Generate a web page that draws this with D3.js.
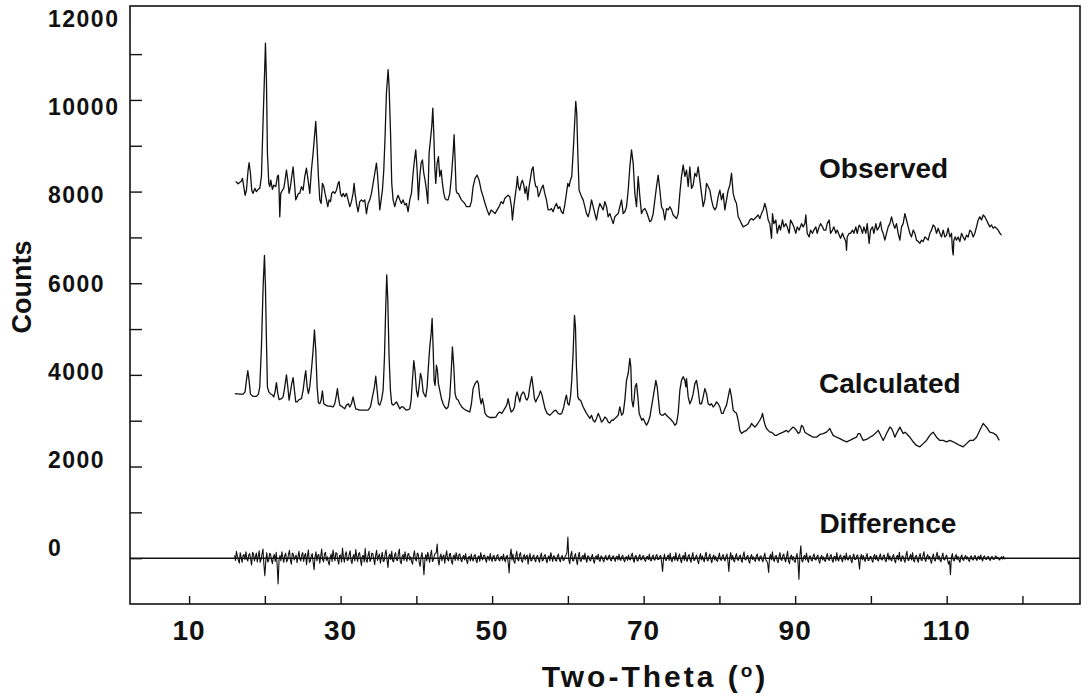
<!DOCTYPE html>
<html>
<head>
<meta charset="utf-8">
<script src="https://cdn.jsdelivr.net/npm/d3@7/dist/d3.min.js"></script>
<style>
  body { margin: 0; background: #fff; }
  svg { display: block; }
  text { font-family: "Liberation Sans", Arial, sans-serif; font-weight: bold; fill: #111; }
</style>
</head>
<body>
<script>

// two-theta / counts
var observed = [
  [16.16,8220],[16.47,8170],[16.69,8200],[16.91,8230],[17.04,8290],[17.22,8110],[17.39,7920],[17.57,8030],[17.79,8470],[17.92,8630],
  [18.10,8400],[18.27,8030],[18.45,7960],[18.67,8070],[18.89,8000],[19.11,8050],[19.33,8070],[19.55,8330],[19.77,9560],[19.99,10730],
  [20.08,11240],[20.21,10440],[20.34,8840],[20.52,8180],[20.65,8110],[20.78,8250],[21.00,8050],[21.18,8140],[21.44,8110],[21.66,8330],
  [21.79,8360],[21.88,8030],[21.97,7450],[22.10,7960],[22.32,8030],[22.50,8070],[22.67,8250],[22.85,8470],[23.03,8250],[23.20,7960],
  [23.38,8110],[23.55,8330],[23.73,8540],[23.91,8180],[24.08,7820],[24.26,7890],[24.43,7960],[24.61,7960],[24.83,8110],[25.05,8030],
  [25.27,8330],[25.49,8510],[25.71,8250],[25.93,7960],[26.15,8470],[26.37,8840],[26.55,9200],[26.72,9530],[26.90,8980],[27.07,8330],
  [27.25,7820],[27.43,7740],[27.60,8180],[27.78,8110],[27.95,7960],[28.13,7820],[28.31,7670],[28.48,7820],[28.66,7780],[28.83,7960],
  [29.01,8000],[29.23,7960],[29.45,8030],[29.67,8180],[29.80,8220],[29.98,7960],[30.15,7890],[30.33,7960],[30.55,7890],[30.77,7960],
  [30.99,7820],[31.21,7670],[31.43,7780],[31.65,7960],[31.78,8180],[31.91,7960],[32.09,7740],[32.31,7560],[32.53,7780],[32.75,7820],
  [32.97,7780],[33.19,7820],[33.41,7520],[33.63,7740],[33.85,7820],[34.07,7960],[34.29,8180],[34.51,8400],[34.73,8620],[34.86,8400],
  [35.04,7960],[35.17,7600],[35.35,7820],[35.52,8030],[35.70,8470],[35.87,9200],[36.05,10150],[36.27,10660],[36.40,10290],[36.58,9350],
  [36.75,8180],[36.93,7820],[37.15,7670],[37.37,7820],[37.59,7920],[37.81,7820],[38.03,7740],[38.25,7820],[38.47,7710],[38.69,7740],
  [38.91,7560],[39.13,7820],[39.35,7960],[39.57,8400],[39.75,8690],[39.92,8910],[40.10,8470],[40.27,7820],[40.45,8330],[40.63,8620],
  [40.80,8690],[40.98,8400],[41.15,8250],[41.33,8030],[41.51,7740],[41.68,8840],[41.86,9130],[42.03,9420],[42.17,9820],[42.30,9270],
  [42.43,8540],[42.56,8180],[42.74,8620],[42.91,8760],[43.09,8330],[43.27,8470],[43.44,8180],[43.62,7960],[43.79,7850],[43.97,7820],
  [44.19,7820],[44.41,7960],[44.63,8330],[44.85,8840],[44.98,9240],[45.11,8690],[45.25,8030],[45.38,7960],[45.55,7960],[45.73,7890],
  [45.95,7820],[46.17,7780],[46.39,7740],[46.61,7670],[46.83,7670],[47.05,7670],[47.27,7780],[47.49,8110],[47.75,8290],[48.02,8360],
  [48.28,8250],[48.55,8030],[48.81,7890],[49.07,7740],[49.34,7600],[49.60,7490],[49.87,7600],[50.13,7560],[50.39,7520],[50.66,7600],
  [50.92,7670],[51.19,7780],[51.45,7740],[51.67,7850],[51.89,7890],[52.11,7920],[52.33,7890],[52.55,7670],[52.68,7380],[52.86,7670],
  [53.03,7890],[53.21,8110],[53.34,8330],[53.47,8110],[53.65,8030],[53.83,8180],[54.00,8250],[54.18,8140],[54.35,7960],[54.53,8110],
  [54.71,7820],[54.88,8110],[55.06,8290],[55.23,8470],[55.41,8540],[55.59,8250],[55.76,8110],[55.94,8110],[56.11,7890],[56.29,7960],
  [56.51,8070],[56.73,8140],[56.95,7960],[57.17,7820],[57.39,7600],[57.61,7600],[57.83,7630],[58.05,7560],[58.27,7670],[58.49,7740],
  [58.71,7630],[58.93,7670],[59.15,7560],[59.37,7520],[59.59,7710],[59.81,7960],[59.99,8180],[60.16,8110],[60.34,8250],[60.51,8330],
  [60.69,8840],[60.87,9420],[61.04,9970],[61.17,9710],[61.31,8840],[61.48,8030],[61.80,7890],[62.02,7820],[62.24,7670],[62.46,7520],
  [62.68,7450],[62.90,7600],[63.12,7820],[63.34,7670],[63.56,7520],[63.78,7380],[64.00,7600],[64.22,7740],[64.44,7670],[64.66,7600],
  [64.88,7780],[65.10,7670],[65.32,7450],[65.54,7520],[65.76,7410],[65.98,7300],[66.20,7450],[66.42,7490],[66.64,7520],[66.86,7670],
  [67.08,7820],[67.30,7520],[67.52,7560],[67.74,7670],[67.96,8030],[68.18,8540],[68.40,8910],[68.62,8620],[68.84,7960],[69.06,7670],
  [69.28,8330],[69.50,7890],[69.72,7520],[69.94,7600],[70.16,7630],[70.38,7560],[70.60,7450],[70.82,7340],[71.04,7380],[71.26,7520],
  [71.48,7820],[71.70,8110],[71.92,8360],[72.14,8030],[72.36,7670],[72.58,7600],[72.80,7380],[73.02,7630],[73.24,7600],[73.46,7670],
  [73.68,7600],[73.90,7490],[74.12,7450],[74.34,7410],[74.56,7520],[74.78,7960],[75.00,8330],[75.22,8580],[75.44,8330],[75.66,8470],
  [75.88,8110],[76.10,8540],[76.32,8070],[76.54,8140],[76.76,8400],[76.98,8330],[77.20,8540],[77.42,8250],[77.64,7960],[77.86,7670],
  [78.08,7820],[78.30,8180],[78.52,8110],[78.74,8030],[78.96,7820],[79.18,7670],[79.40,7600],[79.62,7670],[79.84,7890],[80.06,8030],
  [80.28,7820],[80.50,7960],[80.72,7600],[80.94,7820],[81.16,8030],[81.38,8140],[81.60,8400],[81.82,7960],[82.04,7820],[82.26,7740],
  [82.48,7450],[82.70,7380],[82.92,7300],[83.14,7230],[83.58,7270],[83.80,7300],[84.02,7380],[84.24,7410],[84.46,7380],[84.68,7410],
  [84.90,7450],[85.12,7490],[85.34,7410],[85.56,7520],[85.78,7600],[86.00,7740],[86.22,7600],[86.44,7380],[86.66,7300],[86.88,6980],
  [87.01,7520],[87.19,7300],[87.45,7380],[87.63,7090],[87.89,7270],[88.07,7160],[88.33,7380],[88.51,7230],[88.77,7300],[88.95,7230],
  [89.21,7090],[89.39,7380],[89.65,7300],[89.83,7230],[90.09,7090],[90.27,7230],[90.53,7160],[90.84,7300],[91.06,7230],[91.28,7300],
  [91.41,7490],[91.59,7090],[91.85,7010],[92.03,7160],[92.29,7090],[92.47,7160],[92.73,7230],[92.91,7090],[93.17,7230],[93.35,7300],
  [93.61,7230],[93.79,7160],[94.05,7160],[94.23,7300],[94.49,7380],[94.67,7090],[94.93,7160],[95.11,7230],[95.37,7090],[95.55,7160],
  [95.81,7050],[95.99,6980],[96.25,7090],[96.43,7010],[96.69,6910],[96.78,6720],[96.87,7010],[97.13,7090],[97.31,7090],[97.57,7160],
  [97.75,7090],[98.01,7230],[98.19,7090],[98.45,7270],[98.63,7230],[98.89,7090],[99.07,7230],[99.33,7090],[99.51,7300],[99.77,6870],
  [99.95,7160],[100.21,7230],[100.39,7090],[100.65,7300],[100.83,7160],[101.09,7230],[101.27,7340],[101.44,7160],[101.62,7090],[101.84,6940],
  [102.06,7090],[102.28,7230],[102.50,7300],[102.72,7450],[102.94,7300],[103.16,7200],[103.38,7300],[103.60,7090],[103.82,6940],[104.04,7230],
  [104.26,7300],[104.48,7520],[104.70,7380],[104.92,7230],[105.14,7090],[105.36,7010],[105.58,7160],[105.80,7090],[106.02,6940],[106.24,6910],
  [106.46,6870],[106.68,6940],[106.90,6910],[107.12,7010],[107.34,6980],[107.56,6940],[107.78,7090],[108.00,7160],[108.22,7270],[108.44,7230],
  [108.66,7090],[108.88,7200],[109.10,7090],[109.32,7010],[109.54,7160],[109.76,7010],[109.98,7050],[110.20,7200],[110.42,7010],[110.64,7090],
  [110.77,6720],[110.86,6620],[110.95,6940],[111.12,7010],[111.30,6940],[111.52,7010],[111.74,6910],[111.96,7090],[112.18,7010],[112.40,6940],
  [112.62,7050],[112.84,7010],[113.06,7160],[113.28,7120],[113.50,7010],[113.72,7090],[113.94,7230],[114.16,7380],[114.38,7450],[114.60,7380],
  [114.82,7490],[115.04,7450],[115.26,7380],[115.48,7300],[115.70,7230],[115.92,7270],[116.14,7200],[116.36,7230],[116.58,7200],[116.80,7160],
  [117.02,7090],[117.24,7050]
];

var calculated = [
  [16.03,3590],[16.69,3580],[17.13,3580],[17.39,3630],[17.57,3880],[17.75,4090],[17.92,3880],[18.10,3580],[18.45,3530],[18.89,3530],
  [19.15,3580],[19.33,3740],[19.55,4610],[19.77,5920],[19.95,6610],[20.08,5920],[20.21,4760],[20.34,3740],[20.52,3630],[20.74,3590],
  [21.00,3560],[21.18,3520],[21.35,3630],[21.53,3830],[21.71,3590],[21.88,3460],[22.19,3480],[22.41,3520],[22.63,3740],[22.85,4000],
  [23.03,3740],[23.20,3450],[23.38,3630],[23.55,3810],[23.73,3940],[23.91,3660],[24.08,3410],[24.26,3410],[24.52,3460],[24.83,3480],
  [25.05,3660],[25.27,3960],[25.40,4090],[25.58,3740],[25.75,3590],[25.93,3740],[26.19,4180],[26.37,4540],[26.55,4980],[26.72,4540],
  [26.90,3740],[27.07,3390],[27.25,3370],[27.43,3450],[27.60,3650],[27.78,3370],[28.04,3340],[28.35,3320],[28.66,3320],[29.01,3300],
  [29.23,3370],[29.45,3560],[29.58,3700],[29.71,3520],[29.89,3340],[30.24,3300],[30.55,3260],[30.77,3340],[31.03,3370],[31.21,3300],
  [31.43,3370],[31.65,3520],[31.83,3370],[32.00,3260],[32.53,3230],[32.97,3230],[33.63,3230],[33.94,3300],[34.20,3520],[34.47,3740],
  [34.64,3970],[34.82,3660],[34.99,3370],[35.17,3340],[35.39,3450],[35.61,3660],[35.79,4390],[35.96,5490],[36.09,6180],[36.23,5630],
  [36.40,4390],[36.58,3660],[36.75,3370],[36.93,3340],[37.15,3370],[37.37,3410],[37.59,3340],[37.81,3260],[38.03,3300],[38.25,3300],
  [38.47,3260],[38.69,3230],[38.91,3240],[39.13,3260],[39.31,3450],[39.48,3880],[39.66,4310],[39.83,4070],[40.01,3660],[40.19,3520],
  [40.36,3740],[40.54,4030],[40.71,3920],[40.89,3630],[41.07,3560],[41.24,3520],[41.42,3740],[41.59,4180],[41.77,4610],[41.95,4900],
  [42.08,5230],[42.21,4610],[42.34,3880],[42.47,3770],[42.65,4210],[42.78,4100],[42.91,3810],[43.09,3660],[43.31,3480],[43.53,3370],
  [43.75,3300],[43.97,3260],[44.19,3300],[44.41,3520],[44.59,4030],[44.76,4610],[44.94,4180],[45.11,3590],[45.29,3480],[45.51,3450],
  [45.73,3370],[45.99,3300],[46.26,3260],[46.52,3230],[46.79,3210],[47.05,3190],[47.27,3370],[47.49,3700],[47.75,3810],[48.02,3870],
  [48.19,3810],[48.37,3520],[48.55,3370],[48.72,3480],[48.90,3340],[49.07,3160],[49.34,3100],[49.69,3070],[50.13,3070],[50.48,3080],
  [50.79,3160],[51.01,3190],[51.27,3160],[51.54,3230],[51.80,3300],[51.98,3370],[52.11,3480],[52.33,3300],[52.51,3190],[52.77,3230],
  [52.95,3300],[53.12,3520],[53.30,3630],[53.47,3520],[53.65,3410],[53.83,3560],[54.09,3630],[54.27,3590],[54.44,3480],[54.62,3450],
  [54.79,3520],[54.97,3740],[55.23,3960],[55.41,3740],[55.59,3480],[55.76,3410],[55.94,3480],[56.20,3560],[56.38,3650],[56.55,3580],
  [56.73,3450],[56.99,3260],[57.26,3160],[57.61,3120],[57.87,3160],[58.14,3210],[58.40,3230],[58.67,3170],[58.93,3140],[59.19,3160],
  [59.46,3300],[59.63,3450],[59.81,3560],[59.99,3370],[60.16,3340],[60.34,3520],[60.51,3880],[60.69,4470],[60.87,5300],[61.00,5050],
  [61.13,4180],[61.31,3520],[61.48,3460],[61.66,3450],[62.02,3300],[62.46,3160],[62.90,3050],[63.12,3120],[63.34,3010],[63.56,2970],
  [63.78,3050],[64.00,3160],[64.22,3080],[64.44,2970],[64.66,3010],[64.88,3080],[65.10,3050],[65.32,2970],[65.54,2950],[65.76,3010],
  [65.98,3010],[66.20,3050],[66.42,3080],[66.64,3120],[66.86,3300],[67.08,3120],[67.30,3160],[67.52,3450],[67.74,3880],[67.96,4030],
  [68.18,4360],[68.31,4170],[68.44,3450],[68.62,3300],[68.75,3480],[68.88,3740],[69.06,3810],[69.24,3520],[69.41,3160],[69.59,3080],
  [69.76,3010],[69.94,3050],[70.16,2970],[70.38,2900],[70.60,2970],[70.82,3080],[71.04,3300],[71.26,3520],[71.48,3740],[71.61,3880],
  [71.79,3740],[71.96,3450],[72.14,3160],[72.36,3120],[72.58,3120],[72.80,3160],[73.02,3120],[73.24,3080],[73.46,3050],[73.68,3010],
  [73.90,2970],[74.12,2900],[74.34,2940],[74.56,3160],[74.78,3660],[75.00,3880],[75.22,3960],[75.44,3880],[75.57,3740],[75.66,3920],
  [75.88,3520],[76.10,3370],[76.32,3450],[76.54,3590],[76.76,3810],[76.98,3880],[77.20,3660],[77.42,3370],[77.64,3370],[77.86,3520],
  [78.08,3700],[78.30,3590],[78.52,3370],[78.74,3340],[78.96,3370],[79.18,3300],[79.40,3340],[79.62,3410],[79.84,3370],[80.06,3300],
  [80.28,3160],[80.50,3160],[80.72,3260],[80.94,3340],[81.16,3520],[81.38,3700],[81.60,3520],[81.82,3230],[82.04,3190],[82.26,3160],
  [82.48,3010],[82.70,2790],[82.92,2720],[83.14,2750],[83.58,2790],[83.80,2830],[84.02,2860],[84.24,2940],[84.46,2900],[84.68,2860],
  [84.90,2900],[85.34,3010],[85.56,3080],[85.69,3160],[85.87,3010],[86.04,2900],[86.22,2830],[86.44,2790],[86.66,2750],[86.88,2750],
  [87.10,2720],[87.32,2680],[87.54,2680],[87.98,2720],[88.42,2750],[88.86,2790],[89.08,2750],[89.30,2790],[89.52,2830],[89.74,2860],
  [89.96,2830],[90.18,2790],[90.40,2720],[90.62,2750],[90.84,2900],[91.06,2860],[91.28,2750],[91.50,2720],[91.94,2680],[92.38,2640],
  [92.82,2640],[93.26,2700],[93.70,2720],[94.14,2750],[94.36,2790],[94.58,2830],[94.80,2750],[95.02,2680],[95.46,2640],[95.90,2610],
  [96.34,2570],[96.78,2540],[97.22,2570],[97.66,2610],[98.10,2640],[98.32,2720],[98.54,2720],[98.76,2640],[98.98,2570],[99.42,2590],
  [99.86,2640],[100.30,2680],[100.74,2750],[100.96,2790],[101.18,2720],[101.62,2570],[101.84,2640],[102.06,2720],[102.28,2790],[102.50,2860],
  [102.72,2830],[102.94,2750],[103.16,2640],[103.38,2720],[103.60,2790],[103.82,2860],[104.04,2790],[104.26,2720],[104.48,2750],[104.70,2720],
  [105.14,2640],[105.58,2540],[106.02,2460],[106.46,2430],[106.90,2500],[107.34,2570],[107.78,2680],[108.00,2720],[108.22,2750],[108.66,2640],
  [109.10,2570],[109.54,2570],[109.98,2540],[110.42,2570],[110.86,2540],[111.30,2500],[111.74,2460],[112.18,2430],[112.62,2500],[113.06,2570],
  [113.50,2570],[113.94,2640],[114.38,2790],[114.82,2940],[115.26,2860],[115.70,2750],[116.14,2730],[116.58,2680],[116.94,2570]
];

// difference trace, read every 0.125 deg from 16.0 (one row = 5 deg)
var diffStart = 16.0;
var diffStep = 0.125;
var difference = [
  60,-50,150,40,-40,-110,120,10,-90,60,80,-30,140,-20,-60,70,100,-20,-150,130,90,-60,30,110,-80,40,160,-90,-30,90,200,-140,-380,-60,120,-80,-60,100,90,-40,
  -120,30,80,-70,130,-150,-560,-40,60,-60,140,20,-90,60,110,-80,-40,90,170,-50,-130,110,90,-40,20,70,-100,30,150,-20,-60,80,120,-70,60,100,-140,50,180,-90,
  -70,50,100,-90,-250,30,140,-60,60,80,-110,40,200,-30,-80,90,130,-50,30,-80,-150,20,90,-70,180,40,-60,120,110,-40,-130,60,70,-90,220,30,-90,80,140,-50,
  -40,80,160,-50,-120,30,80,-60,190,40,-70,90,120,-30,-160,50,60,-80,210,-40,-90,60,150,-70,-30,110,100,-20,-140,60,170,-50,40,90,-110,20,130,-70,-60,90,
  180,-40,-200,50,90,-30,150,-60,-80,70,120,-40,-50,100,200,-70,-120,40,80,-50,140,20,-70,90,100,-40,30,-80,-130,60,160,-30,-60,110,90,-90,-180,40,120,-60,
  -360,-40,80,-60,130,40,-90,80,170,-70,-40,60,110,120,310,-50,-150,30,90,-60,40,70,-110,50,160,-30,-60,90,100,-70,-130,40,70,-50,120,30,-50,80,90,-40,
  -80,30,60,-40,100,-50,-120,20,40,-60,90,-30,-60,50,80,-40,-100,30,50,-70,120,20,-40,60,70,-30,-90,40,30,-50,100,-20,-70,40,60,-60,-50,50,80,-30,
  -60,20,40,-50,90,-30,-80,40,60,-100,-320,60,200,-40,90,-70,-110,50,150,-30,-60,80,120,-50,-90,30,80,-40,40,70,-130,20,100,-60,-50,40,70,-40,-80,30,
  60,-30,-90,40,110,-60,-40,50,80,-40,-100,20,50,-60,120,30,-70,50,40,-50,-60,40,90,-30,-80,20,60,-50,-40,30,70,120,460,-40,-120,60,150,-50,-60,40,
  100,-40,-140,30,130,-50,-70,40,60,-30,110,-20,-90,50,40,-40,-60,30,80,-50,-110,20,50,-30,90,-40,-70,50,30,-40,-80,20,60,-30,-40,40,70,-40,-60,30,
  50,-20,-70,30,40,-40,90,-30,-50,40,60,-40,-80,20,30,-50,70,-20,-40,60,110,-30,-90,40,60,-50,-60,30,80,-40,-30,50,50,-40,-70,20,40,-30,90,-40,
  -60,30,70,-40,-40,50,80,-30,-30,40,60,-90,-290,-20,90,-40,-50,30,70,-50,110,-30,-80,20,40,-50,120,-20,-60,40,90,-40,-100,30,60,-50,130,-30,-70,40,
  80,-30,-90,40,120,-50,-40,30,70,-60,-120,20,100,-40,50,-30,-80,60,130,-40,-60,40,90,-30,-100,20,70,-40,40,-50,-70,30,110,-20,-50,40,80,-30,-60,40,
  90,-60,-290,30,120,-40,60,-50,-80,40,100,-30,-50,40,70,-40,-90,50,140,-30,-40,40,60,-60,-110,30,80,-30,30,-40,-70,50,90,-30,-60,40,50,-40,-80,40,
  110,-40,-60,-120,-310,20,80,-40,140,-30,-70,40,60,-50,-100,40,120,-30,-50,60,90,-30,-80,40,150,-60,-120,30,70,-40,40,-60,-90,30,100,-80,-460,60,270,-50,
  -80,30,60,-40,110,-30,-90,40,50,-40,-60,50,90,-30,-40,40,70,-50,-110,20,60,-40,30,-50,-70,40,100,-30,-50,50,80,-40,-90,30,40,-60,120,-30,-60,40,
  70,-30,-80,40,50,-40,110,-20,-40,30,60,-50,-100,40,90,-30,-30,50,70,-60,-240,20,80,-40,60,-30,-70,40,100,-50,-50,30,40,-40,-90,40,80,-30,60,-40,
  -60,40,90,-30,-40,50,70,-40,-80,30,110,-40,50,-30,-60,40,80,-50,-100,30,60,-40,130,-30,-70,50,40,-40,-90,60,150,-40,-50,30,80,-40,120,-50,-80,40,
  60,-30,-90,40,100,-40,-50,60,140,-30,-70,40,80,-20,40,-50,-110,30,90,-40,-60,50,130,-30,50,-40,-80,40,110,-30,-40,30,70,-50,-130,-60,-360,20,100,-40,
  -60,30,80,-30,40,-40,-90,30,70,-30,-50,20,60,-20,30,-40,-70,30,50,-30,-40,30,60,-20,-50,30,40,-30,70,-20,-60,30,50,-20,-30,20,40,-30,-50,20,
  40,-20,-30,20,50,-10,20,-20,-40,10,30,-20,40,-10,-20
];

var xTickValues = [10, 20, 30, 40, 50, 60, 70, 80, 90, 100, 110, 120];
var xTickLabels = [10, 30, 50, 70, 90, 110];
var yTickValues = [0, 1000, 2000, 3000, 4000, 5000, 6000, 7000, 8000, 9000, 10000, 11000];
var yTickLabels = [0, 2000, 4000, 6000, 8000, 10000, 12000];

var seriesNames = ["Observed", "Calculated", "Difference"];
var seriesNameAt = [[93.15, 8300], [93.15, 3600], [93.2, 550]];

var width = 1089, height = 697;

var svg = d3.select("body").append("svg")
    .attr("width", width)
    .attr("height", height);

var x = d3.scaleLinear()
    .domain([2.2, 127.6])
    .range([130, 1080]);

var y = d3.scaleLinear()
    .domain([-1000, 12050])
    .range([604, 6]);

// the printed tick labels sit on a slightly tighter spacing than the ticks
var yLab = d3.scaleLinear()
    .domain([0, 12000])
    .range([548, 19]);

// frame
svg.append("rect")
    .attr("x", x.range()[0])
    .attr("y", y.range()[1])
    .attr("width", x.range()[1] - x.range()[0])
    .attr("height", y.range()[0] - y.range()[1])
    .attr("fill", "none")
    .attr("stroke", "#111")
    .attr("stroke-width", 1.6);

// zero line across the whole plot
svg.append("line")
    .attr("x1", x.range()[0])
    .attr("x2", x.range()[1])
    .attr("y1", y(0))
    .attr("y2", y(0))
    .attr("stroke", "#111")
    .attr("stroke-width", 1.4);

// inward ticks
var bottomAxis = d3.axisBottom(x).tickValues(xTickValues).tickSize(-8).tickFormat("");
svg.append("g")
    .attr("transform", "translate(0," + y.range()[0] + ")")
    .call(bottomAxis)
    .call(function(g) { g.select(".domain").remove(); })
    .selectAll("line").attr("stroke", "#111").attr("stroke-width", 1.4);

var leftAxis = d3.axisLeft(y).tickValues(yTickValues).tickSize(-12).tickFormat("");
svg.append("g")
    .attr("transform", "translate(" + x.range()[0] + ",0)")
    .call(leftAxis)
    .call(function(g) { g.select(".domain").remove(); })
    .selectAll("line").attr("stroke", "#111").attr("stroke-width", 1.4);

// tick labels
svg.selectAll(".xlab").data(xTickLabels).enter()
    .append("text")
    .attr("class", "xlab")
    .attr("x", function(d) { return x(d); })
    .attr("y", 640)
    .attr("text-anchor", "middle")
    .attr("font-size", "28px")
    .style("letter-spacing", "1px")
    .text(function(d) { return d; });

svg.selectAll(".ylab").data(yTickLabels).enter()
    .append("text")
    .attr("class", "ylab")
    .attr("x", 48)
    .attr("y", function(d) { return yLab(d) + 8; })
    .attr("font-size", "23px")
    .style("letter-spacing", "1.5px")
    .text(function(d) { return d; });

// axis titles
var xt = svg.append("text")
    .attr("x", 655)
    .attr("y", 687)
    .attr("text-anchor", "middle")
    .attr("font-size", "30px")
    .style("letter-spacing", "3px");
xt.append("tspan").text("Two-Theta  (");
xt.append("tspan").attr("font-size", "19px").attr("dy", -10).text("o");
xt.append("tspan").attr("dy", 10).text(")");

svg.append("text")
    .attr("transform", "translate(31,287) rotate(-90)")
    .attr("text-anchor", "middle")
    .attr("font-size", "27px")
    .text("Counts");

// curves
var line = d3.line()
    .x(function(d) { return x(d[0]); })
    .y(function(d) { return y(d[1]); });

var diffPoints = difference.map(function(c, i) { return [diffStart + i * diffStep, c]; });

[observed, calculated, diffPoints].forEach(function(s, i) {
    svg.append("path")
        .datum(s)
        .attr("d", line)
        .attr("fill", "none")
        .attr("stroke", "#111")
        .attr("stroke-width", i == 2 ? 1.1 : 1.3)
        .attr("stroke-linejoin", "round");
});

// series names
svg.selectAll(".sname").data(seriesNames).enter()
    .append("text")
    .attr("class", "sname")
    .attr("x", function(d, i) { return x(seriesNameAt[i][0]); })
    .attr("y", function(d, i) { return y(seriesNameAt[i][1]); })
    .attr("font-size", "28px")
    .text(function(d) { return d; });

</script>
</body>
</html>
